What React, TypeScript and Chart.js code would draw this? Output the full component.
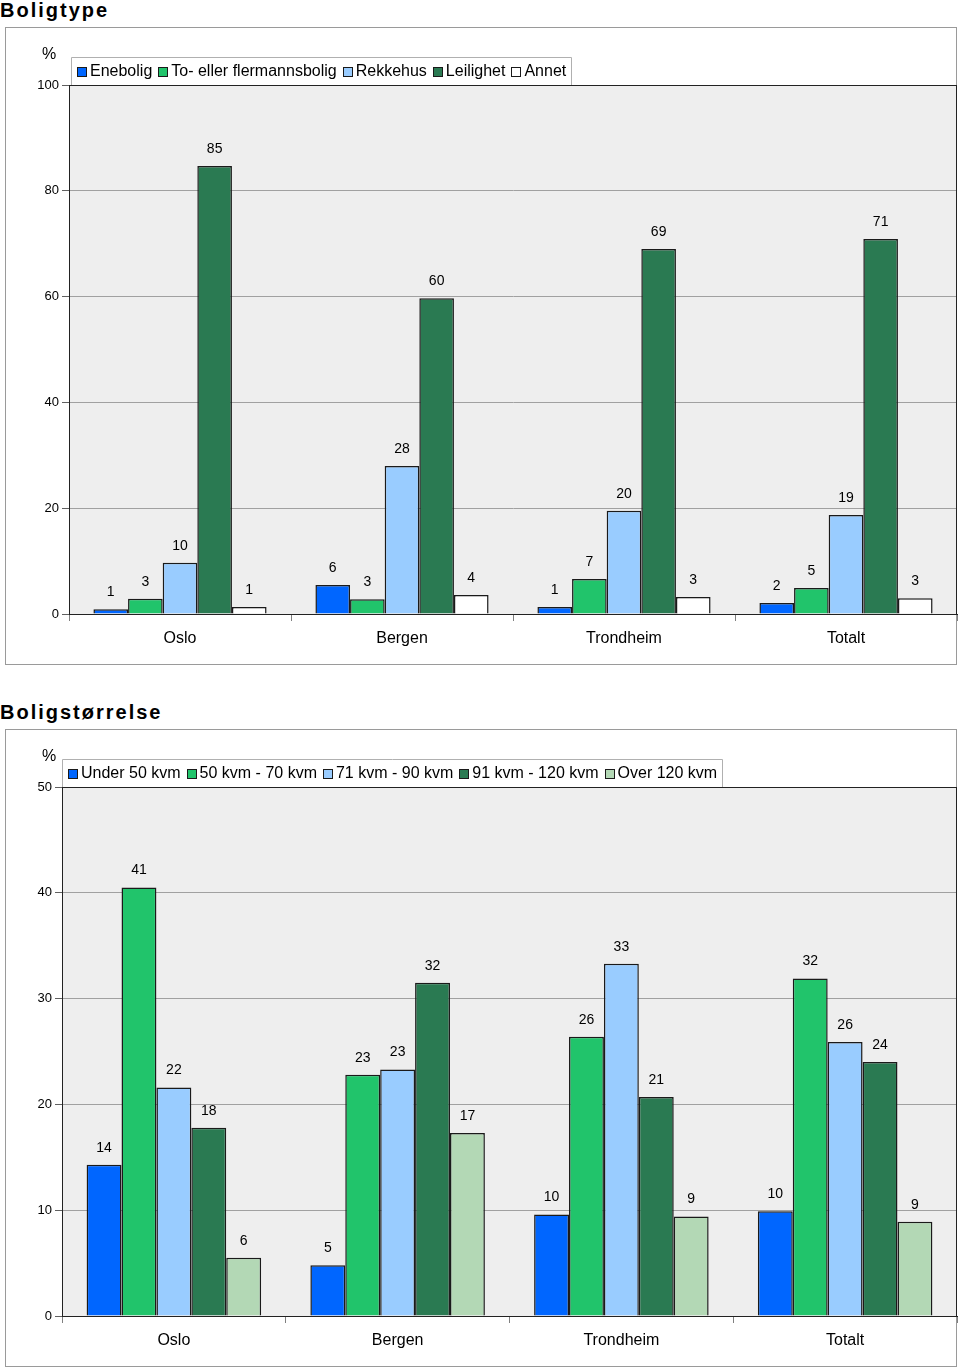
import React, { useEffect, useRef } from "react";
import { Chart, registerables } from "chart.js";
Chart.register(...registerables);

const FONT = "'Liberation Sans', Arial, Helvetica, sans-serif";

const categories = ["Oslo", "Bergen", "Trondheim", "Totalt"];

const typeNames = ["Enebolig", "To- eller flermannsbolig", "Rekkehus", "Leilighet", "Annet"];
const typeEnebolig = [0.9, 5.5, 1.3, 2.1];
const typeToFler = [2.9, 2.8, 6.6, 4.9];
const typeRekkehus = [9.7, 28.0, 19.5, 18.7];
const typeLeilighet = [84.7, 59.7, 69.0, 70.9];
const typeAnnet = [1.3, 3.6, 3.2, 3.0];
const typeTicks = [0, 20, 40, 60, 80, 100];

const sizeNames = ["Under 50 kvm", "50 kvm - 70 kvm", "71 kvm - 90 kvm", "91 kvm - 120 kvm", "Over 120 kvm"];
const sizeUnder50 = [14.3, 4.8, 9.6, 9.9];
const size50to70 = [40.5, 22.8, 26.4, 31.9];
const size71to90 = [21.6, 23.3, 33.3, 25.9];
const size91to120 = [17.8, 31.5, 20.7, 24.0];
const sizeOver120 = [5.5, 17.3, 9.4, 8.9];
const sizeTicks = [0, 10, 20, 30, 40, 50];

const typeColors = ["#0066FF", "#21C46B", "#99CCFF", "#2A7A52", "#FFFFFF"];
const sizeColors = ["#0066FF", "#21C46B", "#99CCFF", "#2A7A52", "#B3D8B5"];

type PanelProps = {
  top: number;
  title: string;
  names: string[];
  series: number[][];
  colors: string[];
  ticks: number[];
  yAxisWidth: number;
  legendLeft: number;
};

function Panel({ top, title, names, series, colors, ticks, yAxisWidth, legendLeft }: PanelProps) {
  const ref = useRef<HTMLCanvasElement | null>(null);
  useEffect(() => {
    if (!ref.current) return;
    const panelPlugin = {
      id: "panelPlugin",
      beforeDraw(chart: any) {
        const { ctx, chartArea: a } = chart;
        ctx.save();
        ctx.fillStyle = "#EEEEEE";
        ctx.fillRect(a.left, a.top, a.right - a.left, a.bottom - a.top);
        ctx.restore();
      },
      beforeDatasetsDraw(chart: any) {
        const { ctx, chartArea: a } = chart;
        ctx.save();
        ctx.strokeStyle = "#222222";
        ctx.lineWidth = 1;
        ctx.strokeRect(Math.round(a.left) + 0.5, Math.round(a.top) + 0.5, Math.round(a.right - a.left) - 1, Math.round(a.bottom - a.top));
        ctx.restore();
      },
      afterDatasetsDraw(chart: any) {
        const { ctx } = chart;
        ctx.save();
        ctx.font = `14px ${FONT}`;
        ctx.fillStyle = "#000";
        ctx.textAlign = "center";
        ctx.textBaseline = "middle";
        chart.data.datasets.forEach((ds: any, di: number) => {
          const meta = chart.getDatasetMeta(di);
          meta.data.forEach((bar: any, i: number) => {
            ctx.fillText(String(Math.round(ds.data[i])), bar.x, bar.y - 17);
          });
        });
        ctx.restore();
      },
      afterDraw(chart: any) {
        const { ctx, chartArea: a } = chart;
        ctx.save();
        ctx.font = `16px ${FONT}`;
        ctx.fillStyle = "#000";
        ctx.textBaseline = "middle";
        ctx.textAlign = "left";
        ctx.fillText("%", 37, 28);
        // legend
        const lx = legendLeft - 5;
        const lh = 28;
        const ly = Math.round(a.top) - lh;
        const sq = 10;
        const padL = 6;
        const gapSq = 3;
        const gapItem = 6;
        let w = padL;
        names.forEach((n, i) => {
          w += sq + gapSq + ctx.measureText(n).width + (i < names.length - 1 ? gapItem : 6);
        });
        w = Math.round(w);
        ctx.fillStyle = "#FFFFFF";
        ctx.fillRect(lx, ly, w, lh);
        ctx.strokeStyle = "#B0B0B0";
        ctx.lineWidth = 1;
        ctx.beginPath();
        ctx.moveTo(lx + 0.5, ly + lh);
        ctx.lineTo(lx + 0.5, ly + 0.5);
        ctx.lineTo(lx + w - 0.5, ly + 0.5);
        ctx.lineTo(lx + w - 0.5, ly + lh);
        ctx.stroke();
        let x = lx + padL;
        const cy = ly + lh / 2 + 0.5;
        names.forEach((n, i) => {
          const sx = Math.round(x);
          const sy = Math.round(cy - sq / 2);
          ctx.fillStyle = colors[i];
          ctx.fillRect(sx, sy, sq, sq);
          ctx.strokeStyle = "#1a1a1a";
          ctx.strokeRect(sx + 0.5, sy + 0.5, sq - 1, sq - 1);
          x += sq + gapSq;
          ctx.fillStyle = "#000";
          ctx.fillText(n, x, cy);
          x += ctx.measureText(n).width + gapItem;
        });
        ctx.restore();
      },
    };
    const chart = new Chart(ref.current, {
      type: "bar",
      data: {
        labels: categories,
        datasets: series.map((d, i) => ({
          label: names[i],
          data: d,
          backgroundColor: colors[i],
          borderColor: "#1a1a1a",
          borderWidth: 1.5,
          barPercentage: 1,
          categoryPercentage: 0.78,
        })),
      },
      options: {
        animation: false,
        responsive: false,
        maintainAspectRatio: false,
        devicePixelRatio: 1,
        layout: { padding: { top: 58, left: 0, right: 1, bottom: 0 } },
        plugins: { legend: { display: false }, tooltip: { enabled: false } },
        scales: {
          x: {
            grid: { drawOnChartArea: false, tickLength: 7, color: "#808080", offset: true },
            border: { display: true, color: "#222222" },
            ticks: { font: { size: 16, family: FONT }, color: "#000", padding: 8 },
            afterFit: (s: any) => { s.height = 52; },
          },
          y: {
            min: ticks[0],
            max: ticks[ticks.length - 1],
            grid: { color: "#A0A0A0", tickLength: 7, tickColor: "#606060" },
            border: { display: true, color: "#222222" },
            ticks: { font: { size: 13, family: FONT }, color: "#000", padding: 3 },
            afterBuildTicks: (s: any) => { s.ticks = ticks.map((v) => ({ value: v })); },
            afterFit: (s: any) => { s.width = yAxisWidth; },
          },
        },
      },
      plugins: [panelPlugin],
    } as any);
    return () => chart.destroy();
  }, []);
  return (
    <>
      <div
        style={{
          position: "absolute", left: 0, top: top - 27, fontFamily: FONT, fontWeight: "bold",
          fontSize: 20, lineHeight: "20px", letterSpacing: 2, color: "#000", whiteSpace: "nowrap",
        }}
      >
        {title}
      </div>
      <div
        style={{
          position: "absolute", left: 5, top, width: 952, height: 638, boxSizing: "border-box",
          border: "1px solid #9A9A9A", background: "#fff",
        }}
      />
      <canvas ref={ref} width={953} height={639} style={{ position: "absolute", left: 5, top, width: 953, height: 639 }} />
    </>
  );
}

export default function App() {
  return (
    <div style={{ position: "absolute", left: 0, top: 0, width: 960, height: 1369, background: "#fff", overflow: "hidden" }}>
      <Panel
        top={27}
        title="Boligtype"
        names={typeNames}
        series={[typeEnebolig, typeToFler, typeRekkehus, typeLeilighet, typeAnnet]}
        colors={typeColors}
        ticks={typeTicks}
        yAxisWidth={64}
        legendLeft={71}
      />
      <Panel
        top={729}
        title="Boligstørrelse"
        names={sizeNames}
        series={[sizeUnder50, size50to70, size71to90, size91to120, sizeOver120]}
        colors={sizeColors}
        ticks={sizeTicks}
        yAxisWidth={57}
        legendLeft={62}
      />
    </div>
  );
}
